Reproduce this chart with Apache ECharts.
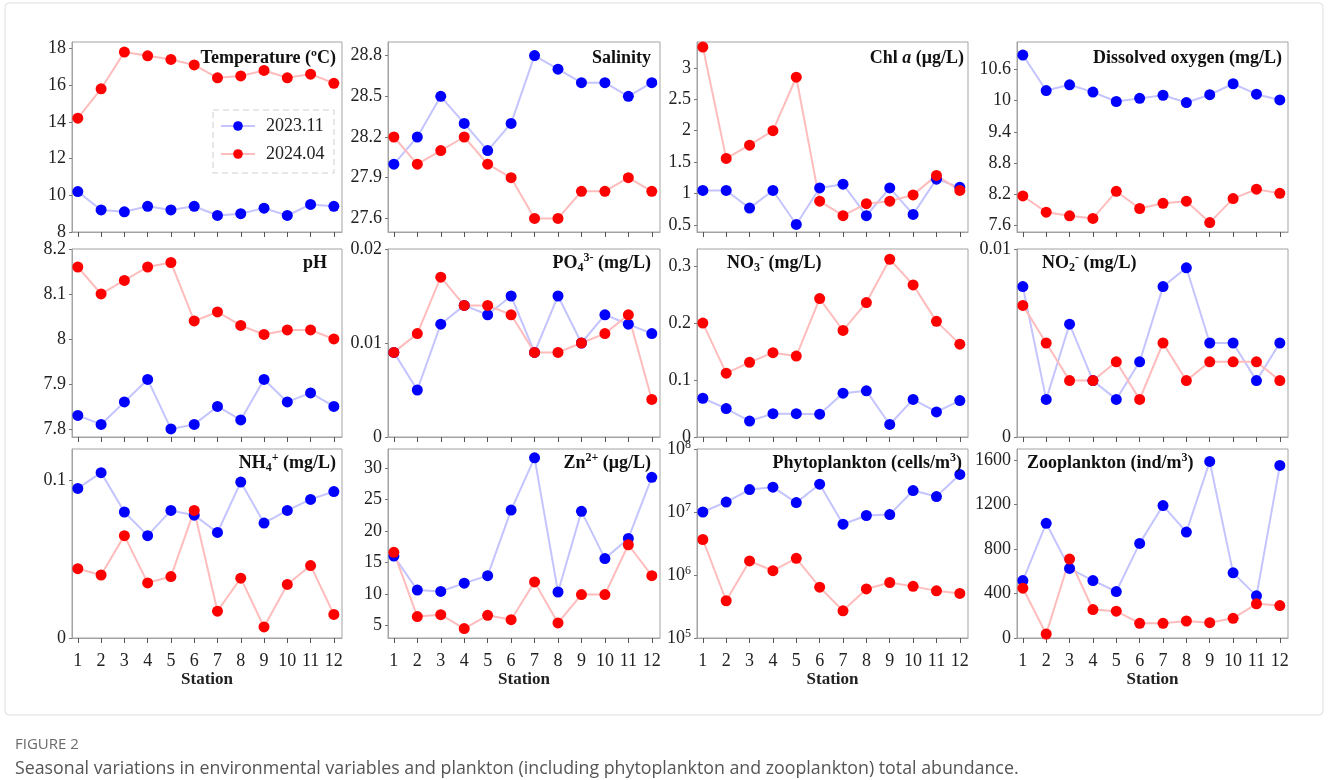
<!DOCTYPE html>
<html><head><meta charset="utf-8">
<script src="https://cdn.jsdelivr.net/npm/echarts@6/dist/echarts.min.js"></script>
<style>html,body{margin:0;padding:0;background:#fff}#c{width:1328px;height:780px}</style>
</head><body><div id="c"></div>
<script>
// ---------- data ----------
const stations = [1,2,3,4,5,6,7,8,9,10,11,12];
const seriesNames = ['2023.11', '2024.04'];

const tempNov = [10.2, 9.2, 9.1, 9.4, 9.2, 9.4, 8.9, 9.0, 9.3, 8.9, 9.5, 9.4];
const tempApr = [14.2, 15.8, 17.8, 17.6, 17.4, 17.1, 16.4, 16.5, 16.8, 16.4, 16.6, 16.1];
const tempTicks = [8, 10, 12, 14, 16, 18];

const salNov = [28.0, 28.2, 28.5, 28.3, 28.1, 28.3, 28.8, 28.7, 28.6, 28.6, 28.5, 28.6];
const salApr = [28.2, 28.0, 28.1, 28.2, 28.0, 27.9, 27.6, 27.6, 27.8, 27.8, 27.9, 27.8];
const salTicks = [27.6, 27.9, 28.2, 28.5, 28.8];

const chlNov = [1.05, 1.05, 0.77, 1.05, 0.51, 1.09, 1.15, 0.65, 1.09, 0.67, 1.23, 1.10];
const chlApr = [3.33, 1.56, 1.77, 2.00, 2.85, 0.88, 0.65, 0.84, 0.88, 0.98, 1.29, 1.05];
const chlTicks = [0.5, 1, 1.5, 2, 2.5, 3];

const doNov = [10.87, 10.19, 10.30, 10.16, 9.98, 10.04, 10.10, 9.96, 10.11, 10.32, 10.12, 10.01];
const doApr = [8.17, 7.86, 7.79, 7.74, 8.26, 7.93, 8.03, 8.07, 7.66, 8.12, 8.30, 8.22];
const doTicks = [7.6, 8.2, 8.8, 9.4, 10, 10.6];

const phNov = [7.83, 7.81, 7.86, 7.91, 7.80, 7.81, 7.85, 7.82, 7.91, 7.86, 7.88, 7.85];
const phApr = [8.16, 8.10, 8.13, 8.16, 8.17, 8.04, 8.06, 8.03, 8.01, 8.02, 8.02, 8.00];
const phTicks = [7.8, 7.9, 8, 8.1, 8.2];

const po4Nov = [0.009, 0.005, 0.012, 0.014, 0.013, 0.015, 0.009, 0.015, 0.010, 0.013, 0.012, 0.011];
const po4Apr = [0.009, 0.011, 0.017, 0.014, 0.014, 0.013, 0.009, 0.009, 0.010, 0.011, 0.013, 0.004];
const po4Ticks = [0, 0.01, 0.02];

const no3Nov = [0.068, 0.050, 0.028, 0.041, 0.041, 0.040, 0.077, 0.081, 0.022, 0.066, 0.044, 0.064];
const no3Apr = [0.200, 0.112, 0.131, 0.148, 0.142, 0.243, 0.187, 0.236, 0.312, 0.267, 0.203, 0.163];
const no3Ticks = [0, 0.1, 0.2, 0.3];

const no2Nov = [0.008, 0.002, 0.006, 0.003, 0.002, 0.004, 0.008, 0.009, 0.005, 0.005, 0.003, 0.005];
const no2Apr = [0.007, 0.005, 0.003, 0.003, 0.004, 0.002, 0.005, 0.003, 0.004, 0.004, 0.004, 0.003];
const no2Ticks = [0, 0.01];

const nh4Nov = [0.095, 0.105, 0.080, 0.065, 0.081, 0.078, 0.067, 0.099, 0.073, 0.081, 0.088, 0.093];
const nh4Apr = [0.044, 0.040, 0.065, 0.035, 0.039, 0.081, 0.017, 0.038, 0.007, 0.034, 0.046, 0.015];
const nh4Ticks = [0, 0.1];

const znNov = [16.0, 10.6, 10.4, 11.7, 12.9, 23.3, 31.6, 10.3, 23.1, 15.6, 18.8, 28.5];
const znApr = [16.6, 6.4, 6.7, 4.5, 6.6, 5.9, 11.9, 5.4, 9.9, 9.9, 17.8, 12.9];
const znTicks = [5, 10, 15, 20, 25, 30];

const phyNov = [1.0e7, 1.44e7, 2.27e7, 2.48e7, 1.41e7, 2.76e7, 6.4e6, 8.8e6, 9.1e6, 2.19e7, 1.76e7, 3.94e7];
const phyApr = [3.66e6, 3.9e5, 1.67e6, 1.17e6, 1.84e6, 6.4e5, 2.7e5, 6.0e5, 7.6e5, 6.6e5, 5.6e5, 5.1e5];
const phyTicks = [1e5, 1e6, 1e7, 1e8];

const zooNov = [517, 1032, 626, 517, 418, 851, 1191, 953, 1588, 586, 379, 1552];
const zooApr = [448, 36, 710, 256, 241, 132, 132, 153, 138, 177, 307, 292];
const zooTicks = [0, 400, 800, 1200, 1600];

// ---------- layout ----------
const colLeft = [72, 388, 697, 1017];
const colWidth = [270, 272, 271, 271];
const rowTop = [42, 249, 449];
const rowHeight = [190, 188, 189];

const panels = [
  {title: 'Temperature (ºC)', nov: tempNov, apr: tempApr, ticks: tempTicks, min: 8, max: 18.35, tr: 336},
  {title: 'Salinity', nov: salNov, apr: salApr, ticks: salTicks, min: 27.5, max: 28.9, tr: 651},
  {title: 'Chl {i|a} (μg/L)', nov: chlNov, apr: chlApr, ticks: chlTicks, min: 0.39, max: 3.41, tr: 964},
  {title: 'Dissolved oxygen (mg/L)', nov: doNov, apr: doApr, ticks: doTicks, min: 7.48, max: 11.12, tr: 1282},
  {title: 'pH', nov: phNov, apr: phApr, ticks: phTicks, min: 7.782, max: 8.2, tr: 327},
  {title: 'PO{sub|4}{sup|3-} (mg/L)', nov: po4Nov, apr: po4Apr, ticks: po4Ticks, min: 0, max: 0.02, tr: 651},
  {title: 'NO{sub|3}{sup|-} (mg/L)', nov: no3Nov, apr: no3Apr, ticks: no3Ticks, min: 0, max: 0.33, tl: 727},
  {title: 'NO{sub|2}{sup|-} (mg/L)', nov: no2Nov, apr: no2Apr, ticks: no2Ticks, min: 0, max: 0.01, tl: 1042},
  {title: 'NH{sub|4}{sup|+} (mg/L)', nov: nh4Nov, apr: nh4Apr, ticks: nh4Ticks, min: 0, max: 0.12, tr: 336},
  {title: 'Zn{sup|2+} (μg/L)', nov: znNov, apr: znApr, ticks: znTicks, min: 3, max: 33, tr: 651},
  {title: 'Phytoplankton (cells/m{sup|3})', nov: phyNov, apr: phyApr, ticks: phyTicks, min: 1e5, max: 1e8, log: true, tr: 962},
  {title: 'Zooplankton (ind/m{sup|3})', nov: zooNov, apr: zooApr, ticks: zooTicks, min: 0, max: 1700, tl: 1027}
];

const serif = '"Liberation Serif", "Times New Roman", serif';
const frameColor = '#a3a3a3';
const blueDot = '#0000ff', blueLine = '#c4c4ff';
const redDot = '#ff0000', redLine = '#ffbcbc';

const grids = [], xAxes = [], yAxes = [], series = [], titles = [];
const titleRich = {
  sub: {fontSize: 12, fontWeight: 'bold', fontFamily: serif, verticalAlign: 'bottom', lineHeight: 22, color: '#111'},
  sup: {fontSize: 12, fontWeight: 'bold', fontFamily: serif, verticalAlign: 'top', lineHeight: 22, color: '#111'},
  i: {fontSize: 18, fontWeight: 'bold', fontStyle: 'italic', fontFamily: serif, color: '#111'}
};

panels.forEach((p, k) => {
  const r = Math.floor(k / 4), c = k % 4;
  grids.push({left: colLeft[c], top: rowTop[r], width: colWidth[c], height: rowHeight[r],
    show: true, borderColor: frameColor, borderWidth: 1, backgroundColor: 'transparent', containLabel: false});
  xAxes.push({
    type: 'value', gridIndex: k, min: 0.75, max: 12.35,
    axisLine: {show: true, onZero: false, lineStyle: {color: frameColor}},
    axisTick: {show: true, customValues: stations, length: 5, lineStyle: {color: '#555'}},
    axisLabel: {show: r === 2, customValues: stations, margin: 14, fontFamily: serif, fontSize: 18, color: '#222'},
    splitLine: {show: false},
    name: r === 2 ? 'Station' : '', nameLocation: 'middle', nameGap: 32,
    nameTextStyle: {fontFamily: serif, fontSize: 17, fontWeight: 'bold', color: '#222'}
  });
  const yAxis = {
    gridIndex: k, min: p.min, max: p.max,
    axisLine: {show: true, onZero: false, lineStyle: {color: frameColor}},
    axisTick: {show: true, length: 3, lineStyle: {color: '#777'}},
    axisLabel: {margin: 6, fontFamily: serif, fontSize: 18, color: '#222'},
    splitLine: {show: false}
  };
  if (p.log) {
    yAxis.type = 'log';
    yAxis.logBase = 10;
    yAxis.axisLabel.formatter = v => '10{s|' + Math.round(Math.log10(v)) + '}';
    yAxis.axisLabel.rich = {s: {fontSize: 12, fontFamily: serif, verticalAlign: 'top', lineHeight: 20, color: '#222'}};
    yAxis.axisLabel.lineHeight = 20;
  } else {
    yAxis.type = 'value';
    yAxis.axisTick.customValues = p.ticks;
    yAxis.axisLabel.customValues = p.ticks;
    yAxis.axisLabel.formatter = v => String(v);
  }
  yAxes.push(yAxis);
  const mk = (name, vals, dot, line) => ({
    name, type: 'line', xAxisIndex: k, yAxisIndex: k,
    data: stations.map((s, i) => [s, vals[i]]),
    symbol: 'circle', symbolSize: 11,
    itemStyle: {color: dot},
    lineStyle: {color: line, width: 2},
    emphasis: {disabled: true}
  });
  series.push(mk(seriesNames[0], p.nov, blueDot, blueLine));
  series.push(mk(seriesNames[1], p.apr, redDot, redLine));
  const t = {
    text: p.title, top: [47, 252, 452][r], padding: 0,
    textStyle: {fontFamily: serif, fontSize: 18, fontWeight: 'bold', color: '#111', lineHeight: 22, rich: titleRich}
  };
  if (p.tr !== undefined) t.right = 1328 - p.tr; else t.left = p.tl;
  titles.push(t);
});

const option = {
  animation: false,
  title: titles,
  grid: grids, xAxis: xAxes, yAxis: yAxes, series,
  legend: {
    data: seriesNames, orient: 'vertical', left: 220, top: 117, itemGap: 10,
    itemWidth: 34, itemHeight: 12, padding: 0,
    textStyle: {fontFamily: serif, fontSize: 18, color: '#222', padding: [0, 0, 0, 6]}
  },
  graphic: [
    {type: 'rect', shape: {x: 213, y: 110, width: 121, height: 63}, style: {fill: 'none', stroke: '#cfcfcf', lineWidth: 1, lineDash: [6, 4]}, silent: true},
    {type: 'rect', shape: {x: 5, y: 3, width: 1318, height: 712, r: 4}, style: {fill: 'none', stroke: '#dddddd', lineWidth: 1}, silent: true, z: -1},
    {type: 'text', left: 15, top: 737, style: {text: 'FIGURE 2', font: '15px "Open Sans", sans-serif', fill: '#6b6b6b'}},
    {type: 'text', left: 15, top: 760, style: {text: 'Seasonal variations in environmental variables and plankton (including phytoplankton and zooplankton) total abundance.', font: '17.8px "Open Sans", sans-serif', fill: '#555'}}
  ]
};
const chart = echarts.init(document.getElementById('c'), null, {renderer: 'canvas'});
chart.setOption(option);
</script></body></html>
